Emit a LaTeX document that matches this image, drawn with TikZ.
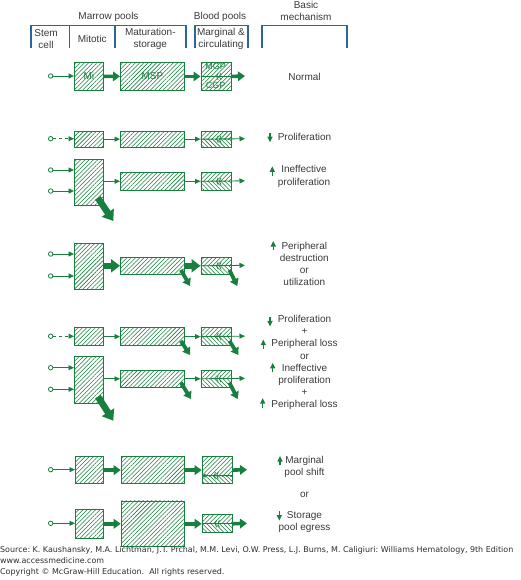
\documentclass[tikz,border=0pt]{standalone}
\usepackage{fontspec}
\setmainfont{Liberation Sans}
\newfontfamily\footfont{DejaVu Sans}
\usetikzlibrary{arrows.meta,patterns.meta,calc}
\definecolor{hg}{RGB}{24,128,62}
\definecolor{hb}{RGB}{44,100,156}
\definecolor{tx}{RGB}{58,58,58}
\definecolor{ft}{RGB}{45,45,45}
\tikzset{
  hatchne/.style={pattern={Lines[angle=45,distance=3pt,line width=0.55pt]},pattern color=hg},
  hatchnw/.style={pattern={Lines[angle=-45,distance=3pt,line width=0.55pt]},pattern color=hg},
  pool/.style={draw=hg,line width=0.9pt,hatchne,inner sep=0pt,anchor=north west,
     text=hg,font=\fontsize{10}{12}\selectfont},
  blood/.style={draw=hg,line width=0.9pt,inner sep=0pt,anchor=north west,
    path picture={
      \fill[hatchne] (path picture bounding box.north east) rectangle ($(path picture bounding box.north west)!#1!(path picture bounding box.south west)$);
      \fill[hatchnw] (path picture bounding box.south east) rectangle ($(path picture bounding box.north west)!#1!(path picture bounding box.south west)$);
    }},
  stem/.style={circle,draw=hg,fill=white,line width=0.8pt,inner sep=0pt,minimum size=4.5pt},
  tarr/.style={draw=hg,line width=0.9pt,-{Triangle[length=5.5pt,width=5pt]}},
  karr/.style={draw=hg,line width=3.6pt,-{Triangle[length=7pt,width=9.5pt]}},
  farr/.style={draw=hg,line width=6.5pt,-{Triangle[length=9pt,width=13pt]}},
  darr/.style={draw=hg,line width=3.8pt,-{Triangle[length=7pt,width=9pt]}},
  bdarr/.style={draw=hg,line width=6.5pt,-{Triangle[length=10pt,width=14pt]}},
  midline/.style={draw=hg,line width=0.8pt},
  lbl/.style={text=tx,font=\fontsize{10}{12.2}\selectfont,align=center,inner sep=0pt},
  hdr/.style={text=tx,font=\fontsize{10}{12}\selectfont,align=center,inner sep=0pt},
  pooltxt/.style={text=hg,font=\fontsize{9}{9}\selectfont,inner sep=0pt},
  bracket/.style={draw=hb,line width=1.1pt},
  foot/.style={text=ft,font=\footfont\fontsize{7.95}{9}\selectfont,inner sep=0pt,anchor=base west},
  exch/.pic={
    \draw[hg,line width=0.7pt] (2,-3.5) .. controls (-0.2,-1.5) and (-0.2,1.5) .. (2,3.5);
    \draw[hg,line width=0.7pt] (4.8,-3.5) .. controls (2.6,-1.5) and (2.6,1.5) .. (4.8,3.5);
  },
  upmark/.pic={\draw[hg,line width=1.3pt,-{Triangle[length=5.5pt,width=5pt]}] (0,4.7) -- (0,-4.7);},
  downmark/.pic={\draw[hg,line width=1.3pt,-{Triangle[length=5.5pt,width=5pt]}] (0,-4.7) -- (0,4.7);},
}
\begin{document}
\frenchspacing
\begin{tikzpicture}[x=1pt,y=-1pt]
\fill[white] (0,0) rectangle (520,580);
\useasboundingbox (0,0) rectangle (520,580);
% ---------- header
\node[hdr] (hm) at (108.5,17) {Marrow pools};
\node[hdr] (hbp) at (220,17) {Blood pools};
\node[hdr] (hbm) at (306,11) {Basic\\mechanism};
\node[hdr] (hs) at (46,39) {Stem\\cell};
\node[hdr] (hmi) at (92.3,39) {Mitotic};
\node[hdr] (hms) at (150.3,39) {Maturation-\\storage};
\node[hdr] (hmc) at (221,39) {Marginal \&\\circulating};
\draw[bracket] (31,48) -- (31,25.3) -- (186,25.3) -- (186,48);
\draw[bracket] (69.7,25.3) -- (69.7,48);
\draw[bracket] (115,25.3) -- (115,48);
\draw[bracket] (195,48) -- (195,25.3) -- (248,25.3) -- (248,48);
\draw[bracket] (262,48) -- (262,25.3) -- (347,25.3) -- (347,48);
% ---------- row 1 : normal
\node[stem] (c1) at (50.7,76) {};
\node[pool,minimum width=29pt,minimum height=28pt] (a1) at (74,62) {Mi};
\node[pool,minimum width=64pt,minimum height=28pt] (b1) at (120,62) {MSP};
\node[pool,minimum width=30.5pt,minimum height=28pt] (g1) at (200.5,62) {};
\node[pooltxt] (mgp) at (215.7,66.5) {MGP};
\node[pooltxt] (cgp) at (215.7,85) {CGP};
\coordinate (o1) at (245,76);
\draw[tarr] (c1) -- (c1 -| a1.west);
\draw[karr] (a1) -- (b1);
\draw[karr] (b1) -- (g1);
\draw[midline] (g1.west) -- (g1.east);
\pic at (g1.center) {exch};
\draw[karr] (g1.east) -- (o1);
\node[lbl] (t1) at (304.5,77) {Normal};
% ---------- row 2
\node[stem] (c2) at (50.7,138.7) {};
\node[pool,minimum width=29pt,minimum height=16pt] (a2) at (74,130.7) {};
\node[pool,minimum width=64pt,minimum height=16pt] (b2) at (120,130.7) {};
\node[blood=0.5,minimum width=30.5pt,minimum height=16pt] (g2) at (200.5,130.7) {};
\coordinate (o2) at (245,138.7);
\draw[tarr,dashed] (c2) -- (c2 -| a2.west);
\draw[tarr] (a2) -- (b2);
\draw[tarr] (b2) -- (g2);
\draw[tarr] (g2.west) -- (o2);
\pic at (g2.center) {exch};
\node[lbl] (t2) at (304.5,137.3) {Proliferation};
\pic at (270,137.5) {downmark};
% ---------- row 3
\node[stem] (c3a) at (50.7,170) {};
\node[stem] (c3b) at (50.7,191) {};
\node[pool,minimum width=29pt,minimum height=45.7pt] (a3) at (74,159.3) {};
\node[pool,minimum width=64pt,minimum height=18.3pt] (b3) at (120,171.7) {};
\node[blood=0.5,minimum width=30.5pt,minimum height=18.3pt] (g3) at (200.5,171.7) {};
\coordinate (o3) at (245,180.85);
\coordinate (e3) at (113.3,221);
\draw[tarr] (c3a) -- (c3a -| a3.west);
\draw[tarr] (c3b) -- (c3b -| a3.west);
\draw[tarr] (b3 -| a3.east) -- (b3);
\draw[tarr] (b3) -- (g3);
\draw[tarr] (g3.west) -- (o3);
\pic at (g3.center) {exch};
\draw[bdarr] ([shift={(-6,-8)}]a3.south east) -- (e3);
\node[lbl] (t3) at (304,176.5) {Ineffective\\proliferation};
\pic at (272.3,171) {upmark};
% ---------- row 4
\node[stem] (c4a) at (50.7,254) {};
\node[stem] (c4b) at (50.7,276) {};
\node[pool,minimum width=29pt,minimum height=45.7pt] (a4) at (74,243.3) {};
\node[pool,minimum width=64pt,minimum height=17.3pt] (b4) at (120,256.7) {};
\node[blood=0.5,minimum width=30.5pt,minimum height=17.3pt] (g4) at (200.5,256.7) {};
\coordinate (o4) at (245,265.35);
\coordinate (e4b) at (190,286);
\coordinate (e4g) at (237.3,286);
\draw[tarr] (c4a) -- (c4a -| a4.west);
\draw[tarr] (c4b) -- (c4b -| a4.west);
\draw[farr] (b4 -| a4.east) -- (b4);
\draw[farr] (b4) -- (g4);
\draw[tarr] (g4.west) -- (o4);
\pic at (g4.center) {exch};
\draw[darr] ([shift={(-4,-5)}]b4.south east) -- (e4b);
\draw[darr] ([shift={(-2.5,-5)}]g4.south east) -- (e4g);
\node[lbl] (t4) at (304.3,263.9) {Peripheral\\destruction\\or\\utilization};
\pic at (273.3,245.7) {upmark};
% ---------- row 5
\node[stem] (c5) at (50.7,336.2) {};
\node[pool,minimum width=29pt,minimum height=17.7pt] (a5) at (74,327.3) {};
\node[pool,minimum width=64pt,minimum height=17.7pt] (b5) at (120,327.3) {};
\node[blood=0.5,minimum width=30.5pt,minimum height=17.7pt] (g5) at (200.5,327.3) {};
\coordinate (o5) at (245,336.15);
\coordinate (e5b) at (190,355);
\coordinate (e5g) at (238.3,355);
\draw[tarr,dashed] (c5) -- (c5 -| a5.west);
\draw[tarr] (a5) -- (b5);
\draw[tarr] (b5) -- (g5);
\draw[tarr] (g5.west) -- (o5);
\pic at (g5.center) {exch};
\draw[darr] ([shift={(-4,-5)}]b5.south east) -- (e5b);
\draw[darr] ([shift={(-2.5,-5)}]g5.south east) -- (e5g);
\node[lbl] (t5) at (304.5,362.7) {Proliferation\\+\\Peripheral loss\\or\\Ineffective\\proliferation\\+\\Peripheral loss};
\pic at (270,321.7) {downmark};
\pic at (263.3,344.3) {upmark};
\pic at (272.7,367.5) {upmark};
\pic at (262.7,402.8) {upmark};
% ---------- row 6
\node[stem] (c6a) at (50.7,367.7) {};
\node[stem] (c6b) at (50.7,389.3) {};
\node[pool,minimum width=29pt,minimum height=46.7pt] (a6) at (74,356) {};
\node[pool,minimum width=64pt,minimum height=16.7pt] (b6) at (120,370) {};
\node[blood=0.5,minimum width=30.5pt,minimum height=16.7pt] (g6) at (200.5,370) {};
\coordinate (o6) at (245,378.35);
\coordinate (e6) at (113.3,420.7);
\coordinate (e6b) at (191,399);
\coordinate (e6g) at (237.7,399);
\draw[tarr] (c6a) -- (c6a -| a6.west);
\draw[tarr] (c6b) -- (c6b -| a6.west);
\draw[tarr] (b6 -| a6.east) -- (b6);
\draw[tarr] (b6) -- (g6);
\draw[tarr] (g6.west) -- (o6);
\pic at (g6.center) {exch};
\draw[bdarr] ([shift={(-6,-7)}]a6.south east) -- (e6);
\draw[darr] ([shift={(-4,-5)}]b6.south east) -- (e6b);
\draw[darr] ([shift={(-2.5,-5)}]g6.south east) -- (e6g);
% ---------- row 7
\node[stem] (c7) at (50.7,469.65) {};
\node[pool,minimum width=27.7pt,minimum height=27.3pt] (a7) at (75,456) {};
\node[pool,minimum width=63.3pt,minimum height=27.3pt] (b7) at (120.7,456) {};
\node[blood=0.72,minimum width=30pt,minimum height=27.3pt] (g7) at (201.7,456) {};
\coordinate (o7) at (247,469.65);
\coordinate (s7) at (213.5,475.7);
\draw[tarr] (c7) -- (c7 -| a7.west);
\draw[karr] (a7) -- (b7);
\draw[karr] (b7) -- (g7);
\draw[midline,{Triangle[length=4pt,width=4pt]}-] (g7.west |- s7) -- (g7.east |- s7);
\pic at (s7) {exch};
\draw[karr] (g7.east) -- (o7);
\node[lbl] (t7) at (304.5,467) {Marginal\\pool shift};
\pic at (280,460.7) {upmark};
\node[lbl] (tor) at (304.5,495) {or};
% ---------- row 8
\node[stem] (c8) at (50.7,523.3) {};
\node[pool,minimum width=27.7pt,minimum height=28.6pt] (a8) at (75,509) {};
\node[pool,minimum width=63.3pt,minimum height=45.6pt] (b8) at (120.7,500.5) {};
\node[blood=0.5,minimum width=30pt,minimum height=18pt] (g8) at (201.7,514.3) {};
\coordinate (o8) at (247,523.3);
\draw[tarr] (c8) -- (c8 -| a8.west);
\draw[karr] (a8) -- (b8);
\draw[karr] (b8) -- (g8);
\draw[midline] (g8.west) -- (g8.east);
\pic at ([xshift=-2.5pt]g8.center) {exch};
\draw[karr] (g8.east) -- (o8);
\node[lbl] (t8) at (304.5,522) {Storage\\pool egress};
\pic at (279.3,516) {downmark};
% ---------- footer
\node[foot] (f1) at (0,552) {Source: K. Kaushansky, M.A. Lichtman, J.T. Prchal, M.M. Levi, O.W. Press, L.J. Burns, M. Caligiuri: Williams Hematology, 9th Edition};
\node[foot] (f2) at (0,563) {www.accessmedicine.com};
\node[foot] (f3) at (0,574) {Copyright © McGraw-Hill Education.\ \ All rights reserved.};
\end{tikzpicture}
\end{document}
